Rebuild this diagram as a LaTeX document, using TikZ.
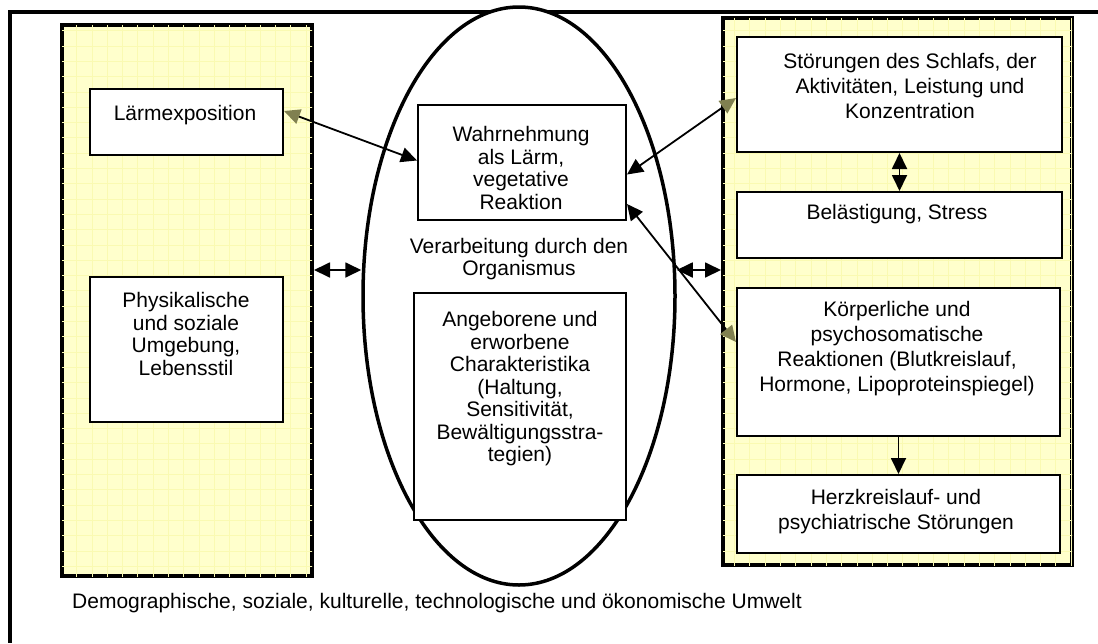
\documentclass[tikz,border=0pt]{standalone}
\usepackage{fontspec}
\setmainfont{Liberation Sans}
\usetikzlibrary{arrows.meta,shapes.geometric}
\definecolor{panelyellow}{RGB}{255,255,204}
\definecolor{panelgrid}{RGB}{250,250,178}
\definecolor{olivehead}{RGB}{128,128,80}

\tikzset{
  panel/.style={draw, line width=4pt, fill=panelyellow, inner sep=0pt},
  box/.style={draw, line width=2pt, fill=white, inner sep=0pt},
  lbl/.style={align=center, inner sep=0pt, font=\fontsize{21}{22.5}\selectfont},
  rlbl/.style={lbl, font=\fontsize{21}{25}\selectfont},
  hd/.tip={Triangle[length=16pt, width=15pt]},
  ohd/.tip={Triangle[length=16pt, width=15pt, color=olivehead]},
  link/.style={line width=1.8pt},
}

\begin{document}
\begin{tikzpicture}[x=1pt, y=-1pt]

  \useasboundingbox (0,0) rectangle (1098,643);

  \draw[line width=4pt] (1098,12) -- (10,12) -- (10,643); %% outer frame

  \node[panel, minimum width=250pt, minimum height=551pt] (leftpanel) at (187,300.5) {};
  \node[panel, minimum width=349pt, minimum height=547pt] (rightpanel) at (897.5,291.5) {};
  \foreach \p in {leftpanel, rightpanel}{
    \begin{scope}
      \clip ([shift={(2pt,2pt)}]\p.south west) rectangle ([shift={(-2pt,-2pt)}]\p.north east);
      \draw[panelgrid, line width=0.5pt, step=15.3pt] (\p.south west) grid (\p.north east);
    \end{scope}
  }

  \node[draw, ellipse, line width=3.5pt, fill=white, inner sep=0pt,
        minimum width=312pt, minimum height=578pt] (org) at (519,296) {};

  \node[box, minimum width=193pt, minimum height=66pt]  (lexp)  at (186.5,122) {};
  \node[box, minimum width=193pt, minimum height=145pt] (phys)  at (186.5,349.5) {};
  \node[box, minimum width=208pt, minimum height=115pt] (wahr)  at (522,162.5) {};
  \node[box, minimum width=212pt, minimum height=227pt] (ange)  at (520,406.5) {};
  \node[box, minimum width=325pt, minimum height=115pt] (stoer) at (899.5,94.5) {};
  \node[box, minimum width=325pt, minimum height=66pt]  (bel)   at (899.5,225) {};
  \node[box, minimum width=323pt, minimum height=148pt] (koerp) at (898.5,362) {};
  \node[box, minimum width=323pt, minimum height=78pt]  (herz)  at (898.5,514) {};

  \node[lbl] (lexptxt) at (185,115) {Lärmexposition};
  \node[lbl] (phystxt) at (186,334) {Physikalische\\und soziale\\Umgebung,\\Lebensstil};
  \node[lbl] (wahrtxt) at (521,168) {Wahrnehmung\\als Lärm,\\vegetative\\Reaktion};
  \node[lbl] (orgtxt) at (519,259) {Verarbeitung durch den\\Organismus};
  \node[lbl] (angetxt) at (520,389) {Angeborene und\\erworbene\\Charakteristika\\(Haltung,\\Sensitivität,\\Bewältigungsstra-\\tegien)};
  \node[rlbl] (stoertxt) at (910,86) {Störungen des Schlafs, der\\Aktivitäten, Leistung und\\Konzentration};
  \node[rlbl] (beltxt) at (897,214) {Belästigung, Stress};
  \node[rlbl] (koerptxt) at (897,349) {Körperliche und\\psychosomatische\\Reaktionen (Blutkreislauf,\\Hormone, Lipoproteinspiegel)};
  \node[rlbl] (herztxt) at (896,512) {Herzkreislauf- und\\psychiatrische Störungen};
  \node[lbl, anchor=west] (umwelt) at (72,603) {Demographische, soziale, kulturelle, technologische und ökonomische Umwelt};

  \coordinate (lvl) at (0,270);

  \draw[link, ohd-hd] ([yshift=11pt]lexp.east) -- ([yshift=2pt]wahr.west);
  \draw[link, hd-ohd] ([yshift=-12pt]wahr.east) -- ([yshift=-3.5pt]stoer.west);
  \draw[link, hd-ohd] ([yshift=-41.5pt]wahr.east) -- ([yshift=20pt]koerp.west);

  \draw[link, hd-hd] (leftpanel.east |- lvl) -- (org.west |- lvl);
  \draw[link, hd-hd] (org.east |- lvl) -- (rightpanel.west |- lvl);

  \draw[link, hd-hd] (stoer.south) -- (stoer.south |- bel.north);
  \draw[link, -hd] (koerp.south) -- (koerp.south |- herz.north);
\end{tikzpicture}
\end{document}
